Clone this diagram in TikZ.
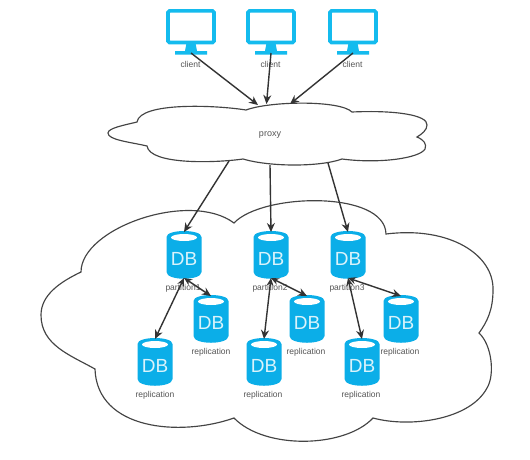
\documentclass[tikz,border=0pt]{standalone}
\usepackage{fontspec}
\setmainfont{Liberation Sans}
\usetikzlibrary{arrows.meta}
\definecolor{dbblue}{HTML}{0BAEE8}
\definecolor{monblue}{HTML}{14BBEE}
\definecolor{inkline}{HTML}{333333}
\definecolor{cloudline}{HTML}{444444}
\definecolor{txt}{HTML}{555555}
\tikzset{
  cloudshape/.style={draw=cloudline,line width=1.15pt,fill=white},
  dbbox/.style={minimum width=35pt,minimum height=46pt,inner sep=0pt,text=white!85!dbblue,font=\fontsize{19}{19}\selectfont},
  monbox/.style={minimum width=50pt,minimum height=45pt,inner sep=0pt},
  caption/.style={text=txt,font=\fontsize{8.5}{9}\selectfont,inner sep=0pt},
  conn/.style={draw=inkline,line width=1.4pt,-{Stealth[length=9pt,width=8pt]}},
  dconn/.style={draw=inkline,line width=1.4pt,{Stealth[length=8pt,width=7pt]}-{Stealth[length=9pt,width=8pt]}},
}
\newcommand{\dbcyl}[3]{%
  \fill[dbblue] (#2-17.5,#3-18) .. controls (#2-17.5,#3-26) and (#2+17.5,#3-26) .. (#2+17.5,#3-18)
     -- (#2+17.5,#3+17) .. controls (#2+17.5,#3+26) and (#2-17.5,#3+26) .. (#2-17.5,#3+17) -- cycle;
  \fill[white] (#2,#3-17.5) ellipse [x radius=13pt,y radius=3.5pt];
  \node[dbbox] (#1) at (#2,#3+4) {DB};
  \coordinate (#1t) at (#2,#3-23);
  \coordinate (#1b) at (#2,#3+23);
}
\newcommand{\monitor}[3]{%
  \draw[monblue,line width=3.6pt,rounded corners=1.5pt] (#2-23,#3-19.2) rectangle (#2+23,#3+12.5);
  \fill[monblue] (#2-4.5,#3+13) -- (#2+4.5,#3+13) -- (#2+6,#3+21) -- (#2+16,#3+21) -- (#2+16,#3+24.5) -- (#2-16,#3+24.5) -- (#2-16,#3+21) -- (#2-6,#3+21) -- cycle;
  \node[monbox] (#1) at (#2,#3) {};
  \coordinate (#1b) at (#2,#3+23);
}
\begin{document}
\begin{tikzpicture}[x=1pt,y=-1pt]
\useasboundingbox[fill=white] (0,0) rectangle (530,459);
% large cloud
\path[cloudshape] (81,272)
  .. controls (81,228) and (190,190) .. (234,223)
  .. controls (262,193) and (385,190) .. (386,234)
  .. controls (450,226) and (494,255) .. (493,290)
  .. controls (493,310) and (487,322) .. (479,333)
  .. controls (492,345) and (495,375) .. (487,388)
  .. controls (470,420) and (410,428) .. (373,418)
  .. controls (345,448) and (265,450) .. (234,418)
  .. controls (180,437) and (97,430) .. (95,369)
  .. controls (70,355) and (41,345) .. (41,315)
  .. controls (41,295) and (60,282) .. (81,272) -- cycle;
% proxy cloud
\path[cloudshape] (137,122)
  .. controls (140,102) and (215,105) .. (246,110)
  .. controls (270,101) and (340,100) .. (352,112)
  .. controls (395,110) and (428,115) .. (427,125)
  .. controls (427,130) and (422,134) .. (417,137)
  .. controls (424,140) and (427,144) .. (425,149)
  .. controls (420,158) and (380,164) .. (342,159)
  .. controls (320,167) and (270,167) .. (243,159)
  .. controls (215,163) and (150,165) .. (147,146)
  .. controls (130,142) and (108,140) .. (108,133)
  .. controls (108,128) and (125,125) .. (137,122) -- cycle;
\node[caption,font=\fontsize{9}{9}\selectfont] (proxy) at (270,135) {proxy};
\coordinate (pin1) at (258,105);
\coordinate (pin2) at (266.5,104);
\coordinate (pin3) at (290,104);
\coordinate (pout1) at (229,161);
\coordinate (pout2) at (270,165);
\coordinate (pout3) at (328,163);
% clients
\monitor{c1}{191}{30}
\monitor{c2}{271}{30}
\monitor{c3}{353}{30}
\node[caption] (lc1) at (190.5,64) {client};
\node[caption] (lc2) at (270.5,64) {client};
\node[caption] (lc3) at (352.5,64) {client};
% databases
\dbcyl{p1}{184}{255}
\dbcyl{p2}{271}{255}
\dbcyl{p3}{348}{255}
\dbcyl{r1a}{211}{319}
\dbcyl{r2a}{307}{319}
\dbcyl{r3a}{401}{319}
\dbcyl{r1b}{155}{362}
\dbcyl{r2b}{264}{362}
\dbcyl{r3b}{362}{362}
\node[caption] (lp1) at (183,288) {partition1};
\node[caption] (lp2) at (270,288) {partition2};
\node[caption] (lp3) at (347,288) {partition3};
\node[caption] (lr1a) at (211,352) {replication};
\node[caption] (lr2a) at (306,352) {replication};
\node[caption] (lr3a) at (400,352) {replication};
\node[caption] (lr1b) at (155,395) {replication};
\node[caption] (lr2b) at (263,395) {replication};
\node[caption] (lr3b) at (361,395) {replication};
% connectors
\draw[conn] (c1b) -- (pin1);
\draw[conn] (c2b) -- (pin2);
\draw[conn] (c3b) -- (pin3);
\draw[conn] (pout1) -- (p1t);
\draw[conn] (pout2) -- (p2t);
\draw[conn] (pout3) -- (p3t);
\draw[dconn] (p1b) -- (r1at);
\draw[dconn] (p1b) -- (r1bt);
\draw[dconn] (p2b) -- (r2at);
\draw[dconn] (p2b) -- (r2bt);
\draw[dconn] (p3b) -- (r3at);
\draw[dconn] (p3b) -- (r3bt);
\end{tikzpicture}
\end{document}
